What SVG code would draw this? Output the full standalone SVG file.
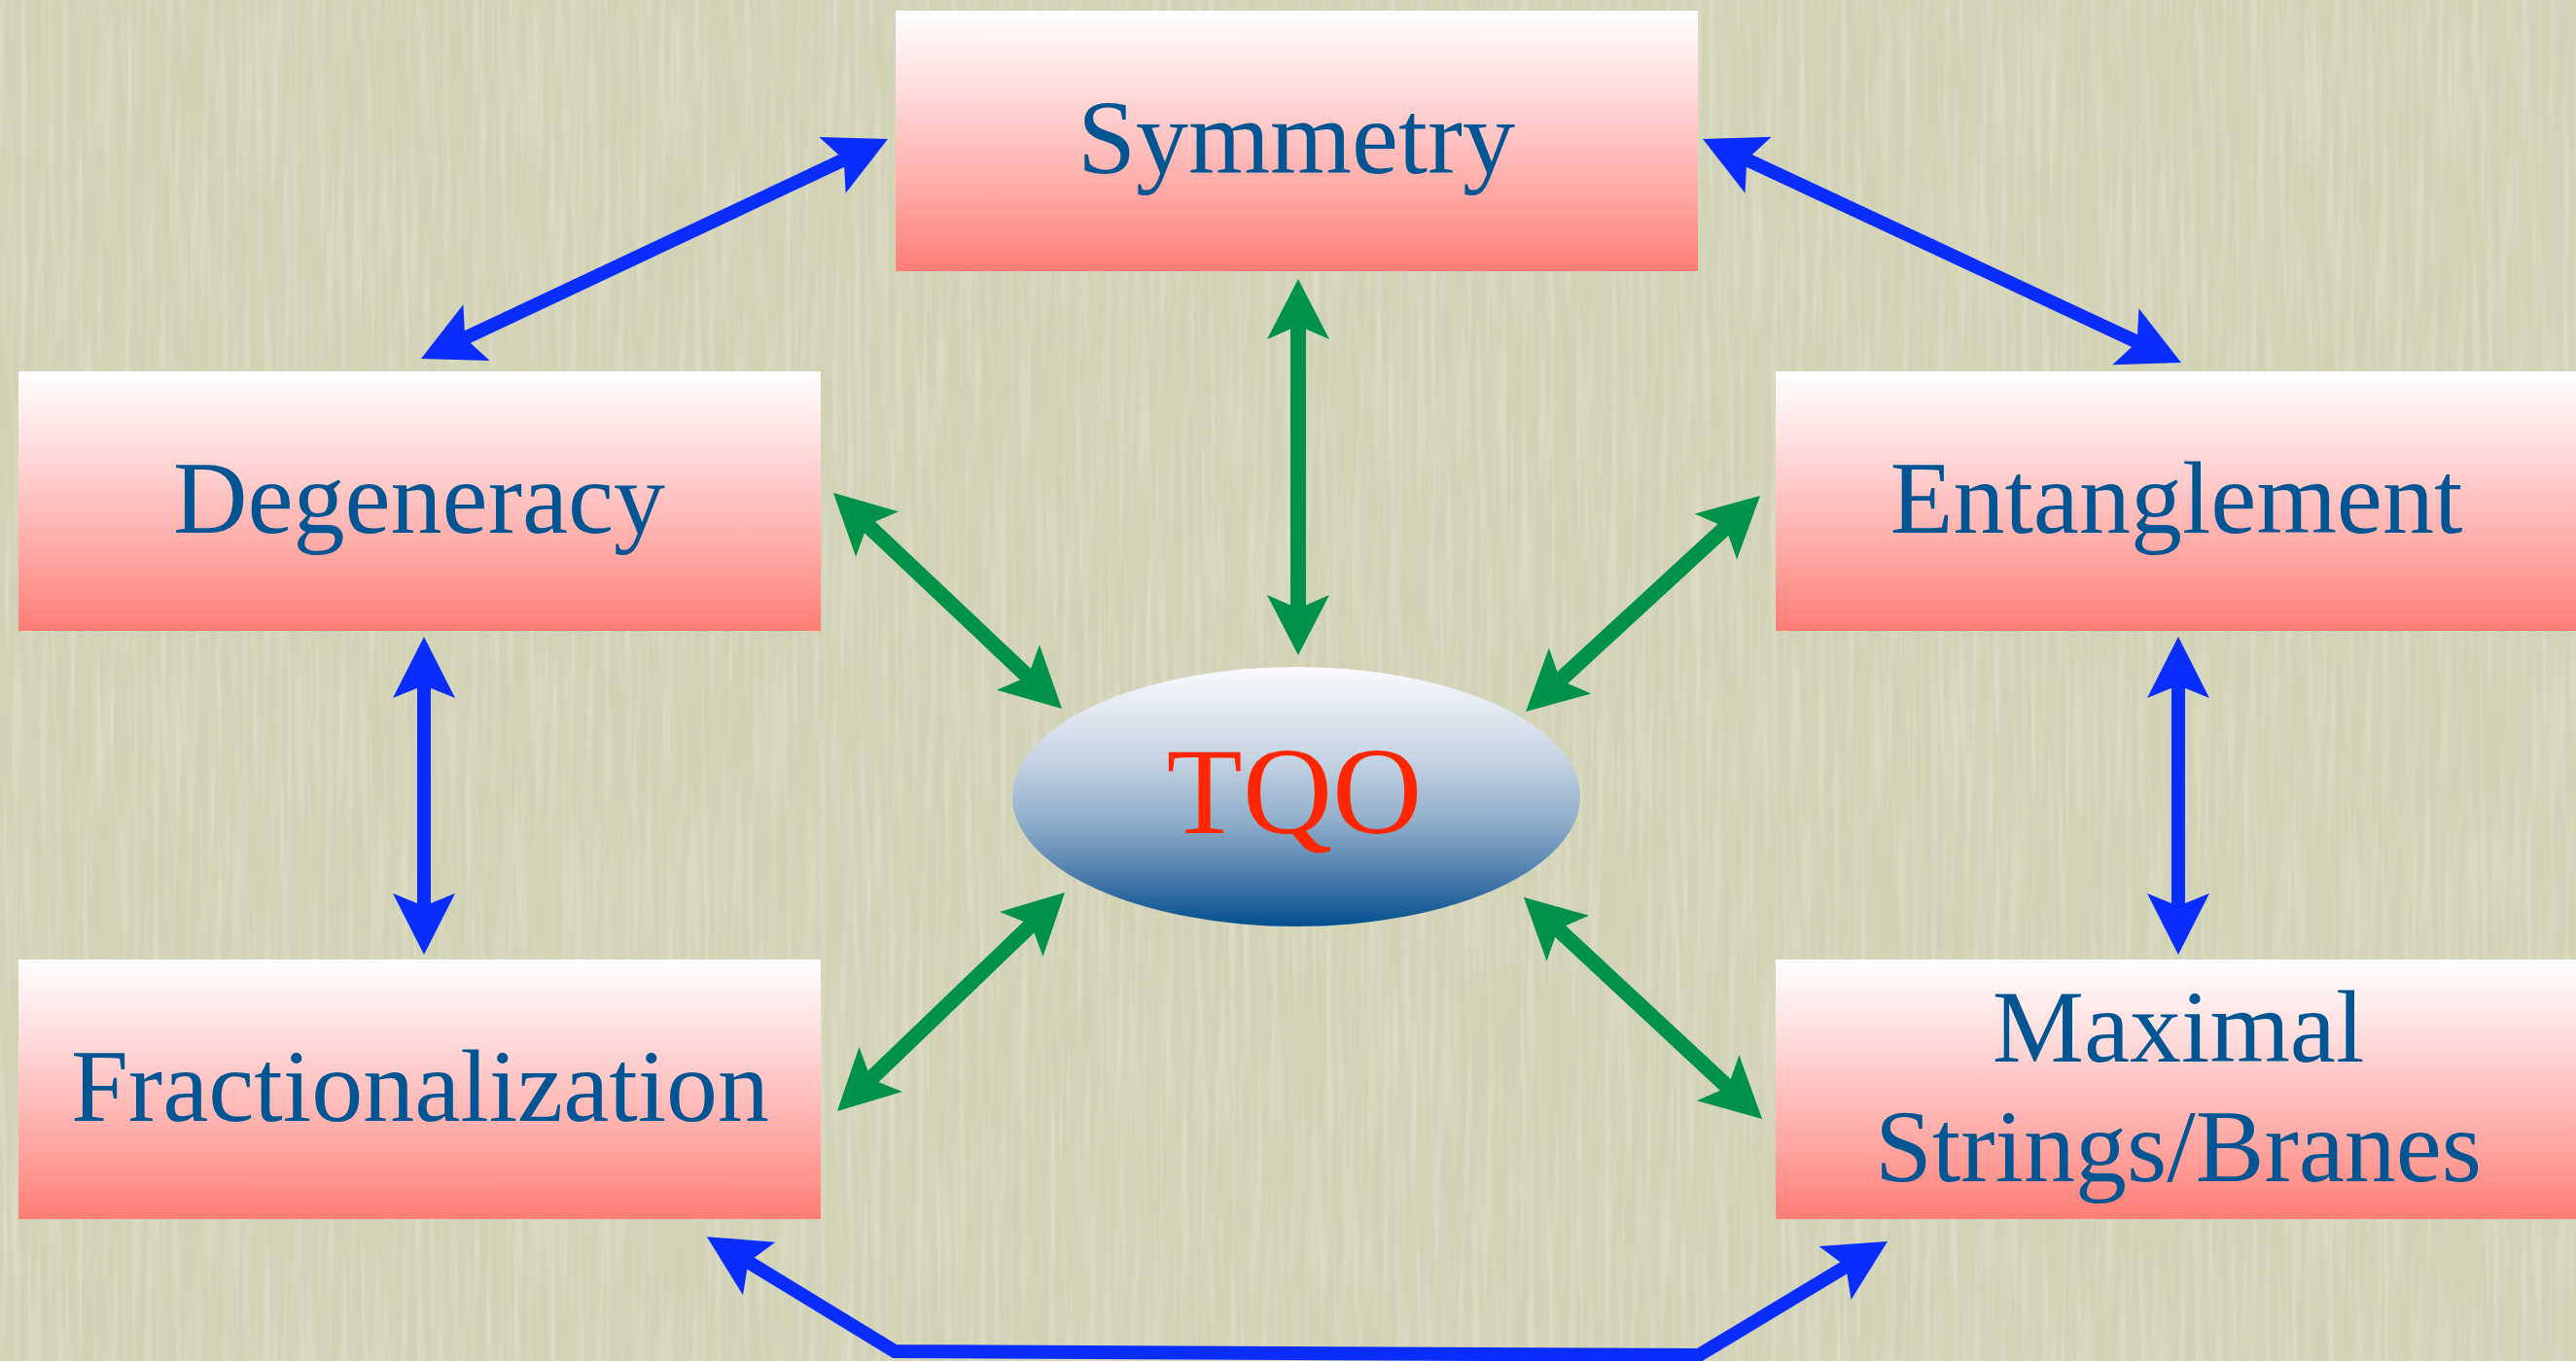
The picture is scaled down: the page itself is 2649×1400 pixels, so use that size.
<svg xmlns="http://www.w3.org/2000/svg" width="2649" height="1400" viewBox="0 0 2649 1400">
<style>
.box{fill:url(#boxg);}
.lbl{font-family:"Liberation Serif","Times New Roman",serif;fill:#005592;text-anchor:middle;}
.blue{fill:none;stroke:#0A2DFF;stroke-width:14;stroke-linejoin:miter;}
.green{fill:none;stroke:#00914B;stroke-width:16;}
</style>
<defs>
<linearGradient id="boxg" x1="0" y1="0" x2="0" y2="1">
<stop offset="0" stop-color="#FFFFFF"/>
<stop offset="0.3" stop-color="#FFDCDC"/>
<stop offset="0.7" stop-color="#FFA8A4"/>
<stop offset="1" stop-color="#FF7D75"/>
</linearGradient>
<linearGradient id="ellg" x1="0" y1="0" x2="0" y2="1">
<stop offset="0" stop-color="#FAFAFD"/>
<stop offset="0.35" stop-color="#C6D4E3"/>
<stop offset="0.6" stop-color="#8FADCA"/>
<stop offset="0.85" stop-color="#3C72A6"/>
<stop offset="1" stop-color="#00508F"/>
</linearGradient>
<filter id="grainL" x="0" y="0" width="100%" height="100%">
<feTurbulence type="fractalNoise" baseFrequency="0.14 0.006" numOctaves="2" seed="4"/>
<feColorMatrix type="matrix" values="0 0 0 0 1  0 0 0 0 1  0 0 0 0 0.93  0.6 0 0 0 -0.26"/>
</filter>
<filter id="grainD" x="0" y="0" width="100%" height="100%">
<feTurbulence type="fractalNoise" baseFrequency="0.12 0.007" numOctaves="2" seed="11"/>
<feColorMatrix type="matrix" values="0 0 0 0 0.55  0 0 0 0 0.55  0 0 0 0 0.4  -0.5 0 0 0 0.2"/>
</filter>
<marker id="hb" markerUnits="userSpaceOnUse" orient="auto-start-reverse" viewBox="-20 -35 70 70" markerWidth="70" markerHeight="70" refX="0" refY="0">
<path d="M45,0 L-18,-32 L-5,0 L-18,32 Z" fill="#0A2DFF"/>
</marker>
<marker id="hg" markerUnits="userSpaceOnUse" orient="auto-start-reverse" viewBox="-20 -35 70 70" markerWidth="70" markerHeight="70" refX="0" refY="0">
<path d="M45,0 L-17,-32 L-3,0 L-17,32 Z" fill="#00914B"/>
</marker>
</defs>
<rect x="0" y="0" width="2649" height="1400" fill="#D2D2B6"/>
<rect x="0" y="0" width="2649" height="1400" filter="url(#grainD)"/>
<rect x="0" y="0" width="2649" height="1400" filter="url(#grainL)"/>

<g id="connectors">
<path class="blue" d="M872.3,162.2 L473.7,349.8" marker-start="url(#hb)" marker-end="url(#hb)"/>
<path class="blue" d="M1791.8,162.1 L2202.2,353.9" marker-start="url(#hb)" marker-end="url(#hb)"/>
<path class="blue" d="M436,700 L436,937" marker-start="url(#hb)" marker-end="url(#hb)"/>
<path class="blue" d="M2240,700 L2240,937" marker-start="url(#hb)" marker-end="url(#hb)"/>
<path class="blue" d="M765.3,1295.6 L920,1390 L1747,1394 L1902.5,1300.2" marker-start="url(#hb)" marker-end="url(#hb)"/>
<path class="green" d="M1335,332 L1335,629" marker-start="url(#hg)" marker-end="url(#hg)"/>
<path class="green" d="M889.7,537.9 L1059.3,698.1" marker-start="url(#hg)" marker-end="url(#hg)"/>
<path class="green" d="M1776.9,540.5 L1602.1,701.5" marker-start="url(#hg)" marker-end="url(#hg)"/>
<path class="green" d="M893.4,1111.8 L1062.6,949.2" marker-start="url(#hg)" marker-end="url(#hg)"/>
<path class="green" d="M1779.1,1120.3 L1599.9,953.7" marker-start="url(#hg)" marker-end="url(#hg)"/>
</g>

<g id="symmetry">
<rect class="box" x="921" y="11" width="825" height="268"/>
<text class="lbl" x="1333" y="178" font-size="108">Symmetry</text>
</g>
<g id="degeneracy">
<rect class="box" x="19" y="382" width="825" height="267"/>
<text class="lbl" x="431" y="548" font-size="106">Degeneracy</text>
</g>
<g id="entanglement">
<rect class="box" x="1826" y="382" width="830" height="267"/>
<text class="lbl" x="2238" y="548" font-size="106">Entanglement</text>
</g>
<g id="fractionalization">
<rect class="box" x="19" y="987" width="825" height="267"/>
<text class="lbl" x="432" y="1153" font-size="106">Fractionalization</text>
</g>
<g id="maximal">
<rect class="box" x="1826" y="987" width="830" height="267"/>
<text class="lbl" x="2240" y="1092" font-size="106">Maximal</text>
<text class="lbl" x="2240" y="1215" font-size="106">Strings/Branes</text>
</g>
<g id="tqo">
<ellipse cx="1333" cy="819.5" rx="292" ry="133.5" fill="url(#ellg)"/>
<text x="1331" y="857" font-size="128" font-family="Liberation Serif, Times New Roman, serif" fill="#FF2600" text-anchor="middle">TQO</text>
</g>
</svg>
